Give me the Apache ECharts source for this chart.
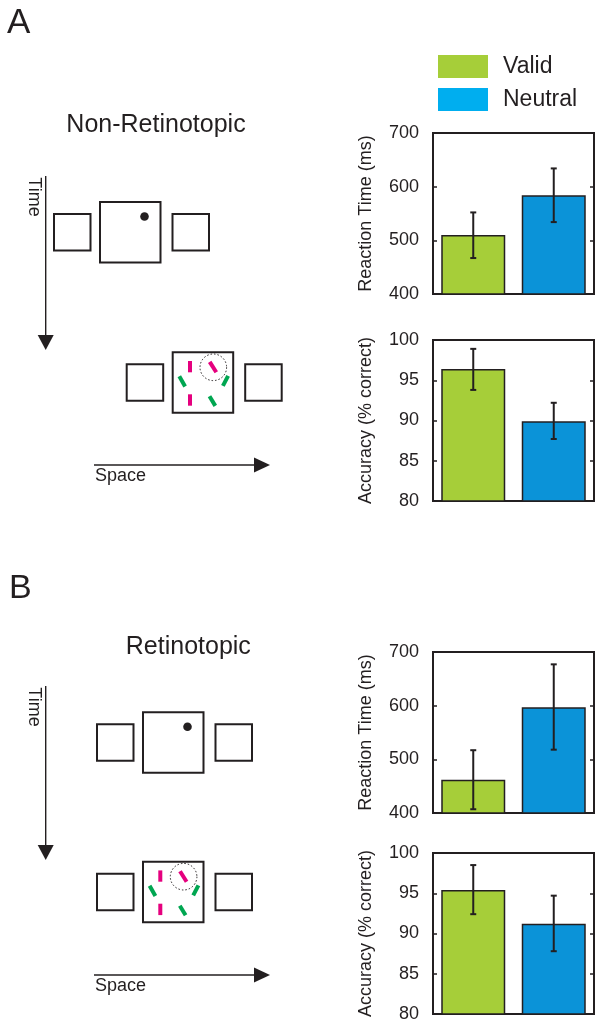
<!DOCTYPE html>
<html>
<head>
<meta charset="utf-8">
<style>
html,body{margin:0;padding:0;background:#fff;}
#chart{width:605px;height:1031px;}
</style>
<script src="https://cdn.jsdelivr.net/npm/echarts@6/dist/echarts.min.js"></script>
</head>
<body>
<div id="chart"></div>
<script>
// ---- data ----
const categories = ['Valid', 'Neutral'];
const rtTicks = [400, 500, 600, 700];
const accTicks = [80, 85, 90, 95, 100];

const rtA = [510, 584];
const rtALow = [467, 534];
const rtAHigh = [552, 634];

const accA = [96.4, 89.9];
const accALow = [93.8, 87.7];
const accAHigh = [98.9, 92.2];

const rtB = [462, 597];
const rtBLow = [407, 518];
const rtBHigh = [517, 677];

const accB = [95.4, 91.2];
const accBLow = [92.4, 87.8];
const accBHigh = [98.5, 94.7];

// ---- styling ----
const INK = '#231f20';
const GREEN = '#a6ce39';
const BLUE_BAR = '#0b93d8';
const BLUE_LEG = '#00aeef';
const FONT = '"Liberation Sans", Arial, Helvetica, sans-serif';

const panels = [
  {top: 133, name: 'Reaction Time (ms)', ticks: rtTicks, vals: rtA, low: rtALow, high: rtAHigh},
  {top: 340, name: 'Accuracy (% correct)', ticks: accTicks, vals: accA, low: accALow, high: accAHigh},
  {top: 652, name: 'Reaction Time (ms)', ticks: rtTicks, vals: rtB, low: rtBLow, high: rtBHigh},
  {top: 853, name: 'Accuracy (% correct)', ticks: accTicks, vals: accB, low: accBLow, high: accBHigh}
];

const grid = [], xAxis = [], yAxis = [], series = [];
panels.forEach((p, i) => {
  grid.push({left: 433, width: 161, top: p.top, height: 161, show: true,
    borderColor: INK, borderWidth: 2, backgroundColor: 'transparent'});
  xAxis.push({type: 'category', gridIndex: i, data: categories,
    axisLine: {show: false}, axisTick: {show: false}, axisLabel: {show: false}});
  const mn = p.ticks[0], mx = p.ticks[p.ticks.length - 1], iv = p.ticks[1] - p.ticks[0];
  yAxis.push({type: 'value', gridIndex: i, min: mn, max: mx, interval: iv, position: 'left',
    name: p.name, nameLocation: 'middle', nameGap: 58,
    nameTextStyle: {fontSize: 18, color: INK, fontFamily: FONT},
    axisLine: {show: false}, splitLine: {show: false},
    axisTick: {show: true, inside: true, length: 4, lineStyle: {color: INK, width: 1.5}},
    axisLabel: {fontSize: 18, color: INK, margin: 14, fontFamily: FONT}});
  yAxis.push({type: 'value', gridIndex: i, min: mn, max: mx, interval: iv, position: 'right',
    axisLine: {show: false}, splitLine: {show: false}, axisLabel: {show: false},
    axisTick: {show: true, inside: true, length: 4, lineStyle: {color: INK, width: 1.5}}});
  series.push({type: 'bar', name: 'Valid', xAxisIndex: i, yAxisIndex: 2 * i,
    data: [p.vals[0], '-'], barWidth: 64, barGap: '-100%',
    itemStyle: {color: GREEN, borderColor: INK, borderWidth: 1.5}, silent: true});
  series.push({type: 'bar', name: 'Neutral', xAxisIndex: i, yAxisIndex: 2 * i,
    data: ['-', p.vals[1]], barWidth: 64, barGap: '-100%',
    itemStyle: {color: BLUE_BAR, borderColor: INK, borderWidth: 1.5}, silent: true});
  series.push({type: 'custom', xAxisIndex: i, yAxisIndex: 2 * i, silent: true, z: 10,
    data: categories.map((c, k) => [k, p.low[k], p.high[k]]),
    renderItem: function (params, api) {
      const lo = api.coord([api.value(0), api.value(1)]);
      const hi = api.coord([api.value(0), api.value(2)]);
      const w = 3;
      const st = {stroke: INK, lineWidth: 2};
      return {type: 'group', children: [
        {type: 'line', shape: {x1: lo[0], y1: lo[1], x2: hi[0], y2: hi[1]}, style: st},
        {type: 'line', shape: {x1: lo[0] - w, y1: lo[1], x2: lo[0] + w, y2: lo[1]}, style: st},
        {type: 'line', shape: {x1: hi[0] - w, y1: hi[1], x2: hi[0] + w, y2: hi[1]}, style: st}
      ]};
    }});
});

// ---- schematic illustrations ----
const MAG = '#e5007e';
const GRN = '#00a651';
const g = [];
function txt(text, x, y, size, align, rot) {
  g.push({type: 'text', x: x, y: y, rotation: rot || 0,
    style: {text: text, fontSize: size, fontFamily: FONT, fill: INK,
      align: align || 'left', textAlign: align || 'left',
      verticalAlign: 'middle', textVerticalAlign: 'middle'}});
}
function box(x, y, s) {
  g.push({type: 'rect', shape: {x: x, y: y, width: s, height: s},
    style: {fill: 'none', stroke: INK, lineWidth: 2}});
}
function seg(x1, y1, x2, y2, color, w) {
  g.push({type: 'line', shape: {x1: x1, y1: y1, x2: x2, y2: y2},
    style: {stroke: color, lineWidth: w}});
}
function row(bx, by, withDot, withStim) {
  box(bx - 46, by + 12, 36.5);
  box(bx, by, 60.5);
  box(bx + 72.5, by + 12, 36.5);
  if (withDot) {
    g.push({type: 'circle', shape: {cx: bx + 44.5, cy: by + 14.5, r: 4.3}, style: {fill: INK}});
  }
  if (withStim) {
    g.push({type: 'circle', shape: {cx: bx + 40.6, cy: by + 15, r: 13.3},
      style: {fill: 'none', stroke: INK, lineWidth: 1, lineDash: [1.5, 2]}});
    seg(bx + 17.3, by + 8.7, bx + 17.3, by + 20, MAG, 4);
    seg(bx + 17.3, by + 42, bx + 17.3, by + 53.4, MAG, 4);
    seg(bx + 37, by + 9.6, bx + 43.6, by + 20, MAG, 4);
    seg(bx + 6.6, by + 24, bx + 12.4, by + 34.2, GRN, 4);
    seg(bx + 55.4, by + 23.6, bx + 50.2, by + 33.6, GRN, 4);
    seg(bx + 36.8, by + 44, bx + 42.6, by + 53.6, GRN, 4);
  }
}
function timeArrow(x, y1, y2) {
  seg(x, y1, x, y2 - 14, INK, 1.4);
  g.push({type: 'polygon', shape: {points: [[x - 8, y2 - 15], [x + 8, y2 - 15], [x, y2]]}, style: {fill: INK}});
  txt('Time', x - 11.5, y1 + 21, 18, 'center', -Math.PI / 2);
}
function spaceArrow(y, x1, x2) {
  seg(x1, y, x2 - 14, y, INK, 1.4);
  g.push({type: 'polygon', shape: {points: [[x2 - 16, y - 7.5], [x2 - 16, y + 7.5], [x2, y]]}, style: {fill: INK}});
  txt('Space', x1 + 1, y + 11, 18, 'left');
}

// panel A
txt('A', 7, 23, 35, 'left');
txt('Non-Retinotopic', 156, 125, 25, 'center');
timeArrow(45.7, 176, 350);
row(100, 202, true, false);
row(172.7, 352.3, false, true);
spaceArrow(465, 94, 270);

// panel B
txt('B', 9, 589, 34, 'left');
txt('Retinotopic', 188.3, 647, 25, 'center');
timeArrow(45.7, 686, 860);
row(143, 712.3, true, false);
row(143, 861.7, false, true);
spaceArrow(975, 94, 270);

const chart = echarts.init(document.getElementById('chart'), null, {renderer: 'canvas'});
chart.setOption({
  animation: false,
  backgroundColor: '#fff',
  textStyle: {fontFamily: FONT},
  legend: {
    left: 433, top: 50, orient: 'vertical', itemWidth: 50, itemHeight: 23, itemGap: 10,
    selectedMode: false,
    textStyle: {fontSize: 23, color: INK, fontFamily: FONT, padding: [0, 0, 0, 10]},
    data: [
      {name: 'Valid', itemStyle: {color: GREEN, borderWidth: 0}},
      {name: 'Neutral', itemStyle: {color: BLUE_LEG, borderWidth: 0}}
    ],
    icon: 'rect'
  },
  grid: grid, xAxis: xAxis, yAxis: yAxis, series: series,
  graphic: {elements: g}
});
</script>
</body>
</html>
